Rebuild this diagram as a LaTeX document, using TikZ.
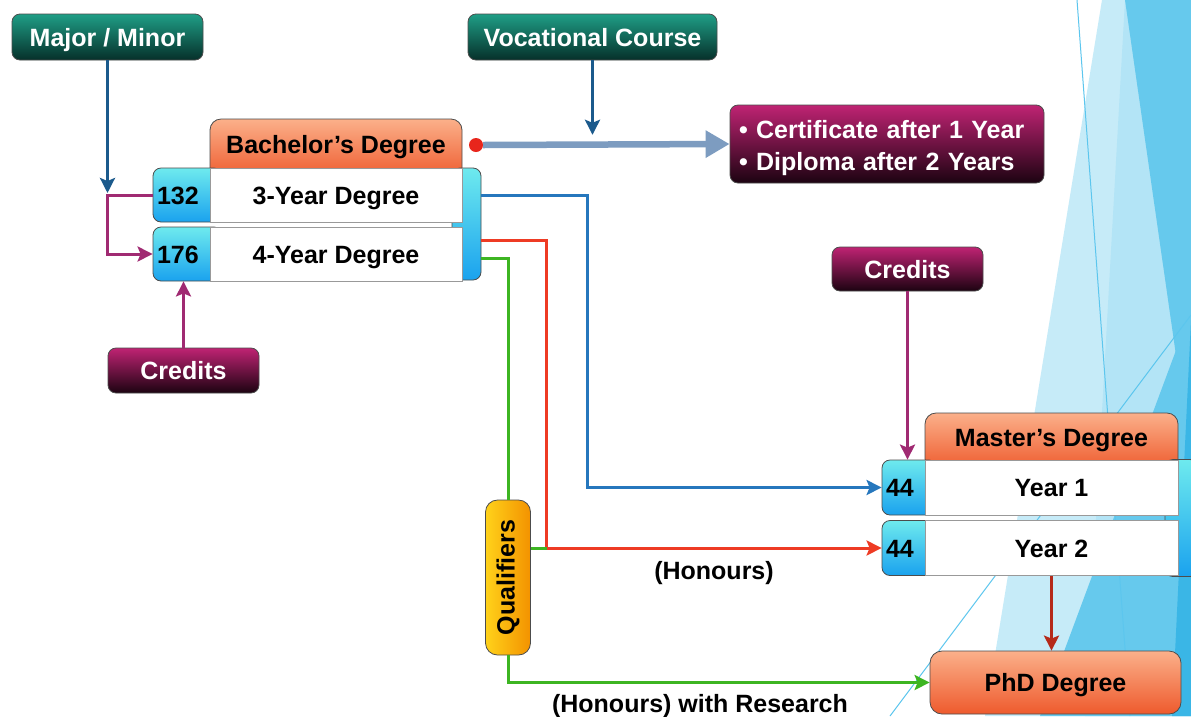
\documentclass[tikz,border=0pt]{standalone}
\usepackage{fontspec}
\setmainfont{Liberation Sans}
\usepackage{graphicx}
\usetikzlibrary{arrows.meta,calc}

\definecolor{grntop}{HTML}{1F9E86}
\definecolor{grnbot}{HTML}{06302A}
\definecolor{wintop}{HTML}{BF2373}
\definecolor{winbot}{HTML}{1C0311}
\definecolor{orgtop}{HTML}{FBB08A}
\definecolor{orgbot}{HTML}{EE5A2D}
\definecolor{captop}{HTML}{6EEAEE}
\definecolor{capbot}{HTML}{1AA2EE}
\definecolor{qualL}{HTML}{FFD21A}
\definecolor{qualR}{HTML}{F39200}
\definecolor{navy}{HTML}{1B5A8C}
\definecolor{lineblue}{HTML}{2677BD}
\definecolor{linered}{HTML}{EE3B24}
\definecolor{linegreen}{HTML}{3DB522}
\definecolor{plum}{HTML}{A02A72}
\definecolor{rust}{HTML}{B52A1A}
\definecolor{steel}{HTML}{7D9CC0}
\definecolor{dotred}{HTML}{E8261C}
\definecolor{bgA}{HTML}{C6EBF8}
\definecolor{bgB}{HTML}{B3E4F6}
\definecolor{bgC}{HTML}{66C9ED}
\definecolor{bgD}{HTML}{3AB6E6}
\definecolor{bgline}{HTML}{5CC6EE}

\tikzset{
  every node/.style={text height=18pt,text depth=0pt},
  box/.style={draw=black!70,line width=.8pt,rounded corners=8pt,inner sep=0pt},
  darkbox/.style={box,text=white,top color=grntop,bottom color=grnbot,minimum height=46pt},
  winebox/.style={box,text=white,top color=wintop,bottom color=winbot},
  headbox/.style={box,rounded corners=11pt,top color=orgtop,bottom color=orgbot},
  numbox/.style={box,top color=captop,bottom color=capbot,align=left,inner xsep=4pt},
  sidebar/.style={box,top color=captop,bottom color=capbot},
  yearrow/.style={draw=black!40,line width=.8pt,fill=white,inner sep=0pt},
  qualbox/.style={box,rounded corners=12pt,left color=qualL,right color=qualR},
  wire/.style={line width=3pt},
  link/.style={wire,-{Stealth[length=15pt,width=15pt,inset=3pt]}}
}

\begin{document}
\begin{tikzpicture}[x=1pt,y=-1pt,font=\fontsize{25}{30}\selectfont\bfseries]
\fill[white] (0,0) rectangle (1191,716);
\useasboundingbox (0,0) rectangle (1191,716);

% background facets
\fill[bgA] (1102,0) -- (1191,0) -- (1191,716) -- (985,716) -- cycle;
\fill[bgB] (1125,0) -- (1191,0) -- (1191,716) -- (1085,716) -- cycle;
\fill[bgC] (1125,0) -- (1191,0) -- (1191,460) -- cycle;
\fill[bgC] (1191,310) -- (1191,716) -- (1040,716) -- cycle;
\fill[bgD] (1191,320) -- (1191,716) -- (1172,716) -- cycle;
\draw[bgline,line width=1pt] (1077,0) -- (1130,716);
\draw[bgline,line width=1pt] (1191,315) -- (890,716);

\node[darkbox,minimum width=191pt] (major) at (107.5,37) {Major / Minor};
\node[darkbox,minimum width=249pt] (voc) at (592.5,37) {Vocational Course};
\node[winebox,minimum width=314pt,minimum height=78pt,text width=296pt,inner xsep=9pt,align=left,
  text height=,text depth=30pt,font=\fontsize{25}{32}\selectfont\bfseries] (cert) at (887,144)
  {\textbullet\ Certificate after 1 Year\\\textbullet\ Diploma after 2 Years};

% bachelor block
\node[headbox,minimum width=252pt,minimum height=60pt,text depth=9pt] (bach) at (336,149) {Bachelor's Degree};
\node[sidebar,minimum width=29pt,minimum height=112pt] (bbar) at (466.5,224) {};
\node[numbox,text width=61pt,minimum height=54pt] (n132) at (187.5,195) {132};
\node[yearrow,minimum width=252pt,minimum height=54pt] (r3) at (336,195) {3-Year Degree};
\node[numbox,text width=61pt,minimum height=54pt] (n176) at (187.5,254) {176};
\node[yearrow,minimum width=252pt,minimum height=54pt] (r4) at (336,254) {4-Year Degree};
\node[circle,fill=dotred,minimum size=14pt,inner sep=0pt,text height=,text depth=] (dot) at (476,145) {};

% master block
\node[headbox,minimum width=253pt,minimum height=57pt,text depth=9pt] (mast) at (1051.5,441.5) {Master's Degree};
\node[sidebar,minimum width=33pt,minimum height=117pt] (mbar) at (1181.5,518) {};
\node[numbox,text width=47pt,minimum height=55pt] (n44a) at (909.5,487.5) {44};
\node[yearrow,minimum width=253pt,minimum height=55pt] (y1) at (1051.5,487.5) {Year 1};
\node[numbox,text width=47pt,minimum height=55pt] (n44b) at (909.5,548) {44};
\node[yearrow,minimum width=253pt,minimum height=55pt] (y2) at (1051.5,548) {Year 2};
\node[headbox,minimum width=251pt,minimum height=63pt,rounded corners=12pt] (phd) at (1055.5,682.5) {PhD Degree};

\node[winebox,minimum width=151pt,minimum height=45pt] (credl) at (183.5,370.5) {Credits};
\node[winebox,minimum width=151pt,minimum height=44pt] (credr) at (907.5,269) {Credits};
\node[qualbox,minimum width=45pt,minimum height=155pt,text height=,text depth=] (qual) at (508,577.5) {\rotatebox{90}{Qualifiers}};

\node (hon) at (714,570) {(Honours)};
\node (honres) at (700,703) {(Honours) with Research};

% connectors
\draw[link,navy,shorten >=2pt] (major) -- (major |- n132.west);
\draw[link,plum] (n132.west) -- (n132.west -| major.south) |- (n176.west);
\draw[link,plum] (credl) -- (credl |- n176.south);
\draw[link,navy,shorten >=3pt] (voc) -- (voc.south |- dot.north);
\draw[steel,line width=6.5pt,-{Triangle[length=24pt,width=26pt]}] (dot.east) -- (cert.west);
\draw[link,lineblue] (bbar.east |- r3) -- ++(106,0) |- (n44a.west);
\draw[link,linered] ($(bbar.east)+(0,16)$) -- ++(65,0) |- (n44b.west);
\draw[wire,linegreen] ($(bbar.east)+(0,34)$) -| (qual.north);
\draw[wire,linegreen] (qual.east |- n44b.west) -- ++(16,0);
\draw[link,linegreen] (qual.south) |- (phd.west);
\draw[link,plum] (credr) -- (credr |- n44a.north);
\draw[link,rust] (y2.south) -- (y2.south |- phd.north);
\end{tikzpicture}
\end{document}
